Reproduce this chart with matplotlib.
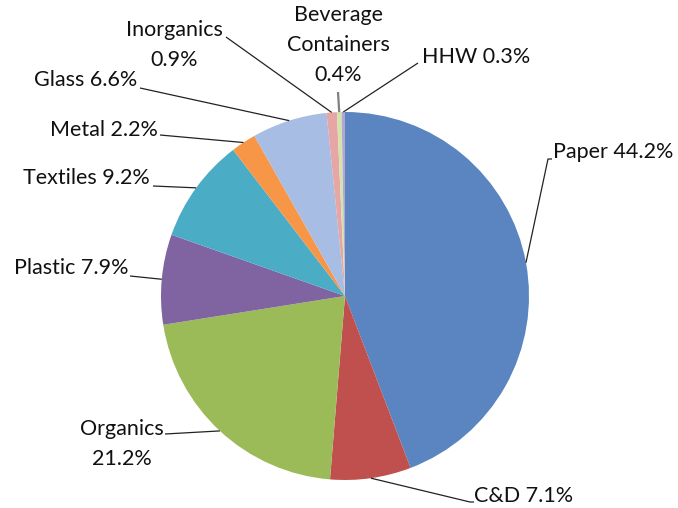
import numpy as np
import matplotlib
matplotlib.use("Agg")
import matplotlib.pyplot as plt

# ============================================================
# DATA
# ============================================================
categories = ["Paper", "C&D", "Organics", "Plastic", "Textiles", "Metal",
              "Glass", "Inorganics", "Beverage Containers", "HHW"]
shares = [44.2, 7.1, 21.2, 7.9, 9.2, 2.2, 6.6, 0.9, 0.4, 0.3]
label_texts = ["Paper 44.2%", "C&D 7.1%", "Organics\n21.2%", "Plastic 7.9%",
               "Textiles 9.2%", "Metal 2.2%", "Glass 6.6%", "Inorganics\n0.9%",
               "Beverage\nContainers\n0.4%", "HHW 0.3%"]
colors = ["#5a85c0", "#c0504d", "#9bbb59", "#8064a2", "#4bacc6", "#f79646",
          "#a8bde3", "#e6a6a6", "#d3e4ab", "#b3a6d3"]

# layout (pixel coords, y from top): text pos, alignment, line end near text
W, H = 678, 508
cx, cy, R = 345, 296, 184
text_pos = [(553, 152), (474, 496), (122, 444), (128, 268), (150, 178),
            (158, 130), (137, 80), (174, 45), (338, 45), (422, 57)]
text_ha = ["left", "left", "center", "right", "right",
           "right", "right", "center", "center", "left"]
line_end = [[(548, 159), (552, 159)], [(470, 502), (474, 502)], [(165, 434)],
            [(130, 276)], [(153, 186)], [(160, 135)], [(140, 88)],
            [(226, 37)], [(338, 92)], [(418, 63)]]

plt.rcParams['font.family'] = ['Lato', 'DejaVu Sans']

fig = plt.figure(figsize=(W / 100, H / 100), dpi=100)
ax = fig.add_axes([0, 0, 1, 1])

wedges, _ = ax.pie(shares, colors=colors, startangle=90, counterclock=False,
                   center=(cx, H - cy), radius=R,
                   wedgeprops=dict(linewidth=0))
ax.set_xlim(0, W)
ax.set_ylim(0, H)
ax.set_aspect('equal')
ax.axis('off')

for i, w in enumerate(wedges):
    mid = np.deg2rad((w.theta1 + w.theta2) / 2)
    ex = cx + R * np.cos(mid)
    ey = (H - cy) + R * np.sin(mid)
    pts = [(ex, ey)] + [(px, H - py) for px, py in line_end[i]]
    xs, ys = zip(*pts)
    lc = '#7f7f7f' if categories[i] == "Beverage Containers" else '#222222'
    lw = 1.6 if categories[i] == "Beverage Containers" else 0.9
    ax.plot(xs, ys, color=lc, lw=lw, solid_capstyle='butt')
    tx, ty = text_pos[i]
    ax.text(tx, H - ty, label_texts[i], ha=text_ha[i], va='center',
            fontsize=15.5, color='#111111', linespacing=1.6)

plt.savefig('out.png', dpi=100)
